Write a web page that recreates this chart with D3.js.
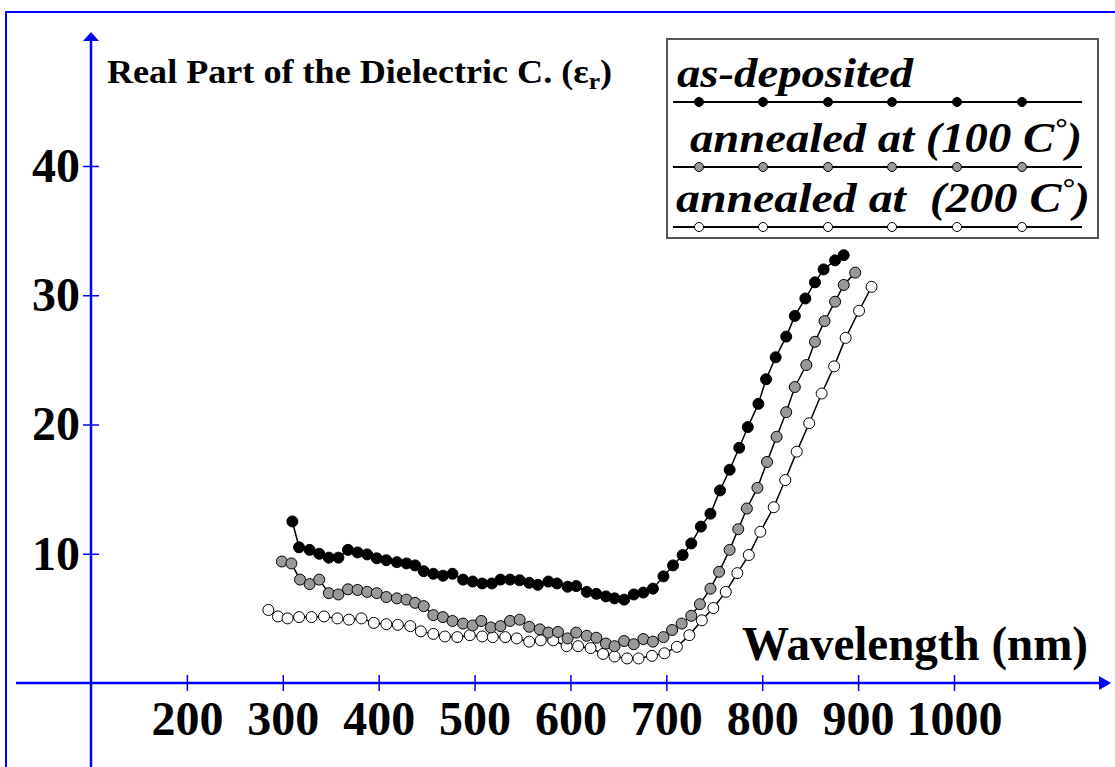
<!DOCTYPE html>
<html>
<head>
<meta charset="utf-8">
<script src="https://cdn.jsdelivr.net/npm/d3@7"></script>
<style>
    body { margin: 0; background: #fff; }
    text { font-family: "Liberation Serif", "Times New Roman", serif; font-weight: bold; }
</style>
</head>
<body>
<script>
// wavelength (nm) / real part of dielectric constant
const asDepWl = [310, 317, 328, 338, 348, 358, 368, 378, 388, 398, 408, 419, 429, 438, 447, 457, 467, 477, 488, 498,
    508, 518, 527, 537, 547, 557, 566, 577, 586, 597, 606, 617, 627, 637, 646, 656, 666, 676, 686, 697,
    707, 717, 726, 736, 746, 756, 766, 776, 785, 796, 804, 814, 825, 834, 845, 855, 864, 876, 885]
const asDepEr = [12.5, 10.5, 10.3, 10.0, 9.7, 9.7, 10.3, 10.1, 9.95, 9.65, 9.5, 9.35, 9.25, 9.1, 8.65, 8.45, 8.3, 8.45, 8.0, 7.85,
    7.7, 7.7, 8.0, 8.0, 7.95, 7.75, 7.6, 7.85, 7.7, 7.45, 7.5, 7.05, 6.9, 6.7, 6.55, 6.45, 6.85, 7.0, 7.3, 8.25,
    9.1, 9.9, 10.8, 12.1, 13.1, 14.9, 16.5, 18.2, 19.8, 21.6, 23.5, 25.2, 26.8, 28.4, 29.75, 31.0, 32.0, 32.7, 33.1]

const ann100Wl = [299, 309, 318, 328, 338, 348, 358, 368, 378, 388, 398, 408, 419, 429, 438, 447, 457, 467, 477, 488,
    498, 507, 517, 527, 537, 547, 557, 568, 577, 587, 597, 606, 617, 627, 637, 646, 656, 666, 676, 686,
    697, 706, 716, 726, 735, 746, 755, 766, 775, 784, 795, 805, 815, 825, 834, 846, 855, 865, 876, 885, 897]
const ann100Er = [9.4, 9.25, 8.0, 7.65, 8.0, 6.95, 6.85, 7.25, 7.2, 7.05, 6.95, 6.65, 6.55, 6.45, 6.2, 5.95, 5.25, 5.1, 4.8, 4.6,
    4.45, 4.8, 4.3, 4.4, 4.8, 4.9, 4.35, 4.15, 3.9, 3.95, 3.45, 3.9, 3.65, 3.5, 3.05, 2.85, 3.25, 3.0, 3.4, 3.2,
    3.55, 4.1, 4.6, 5.2, 6.1, 7.3, 8.6, 10.3, 11.9, 13.5, 15.1, 17.1, 19.05, 20.95, 22.9, 24.6, 26.4, 28.0, 29.5, 30.8, 31.75]

const ann200Wl = [285, 295, 305, 317, 330, 343, 357, 369, 382, 395, 408, 420, 433, 444, 457, 469, 482, 495, 508, 519,
    532, 544, 557, 569, 582, 596, 608, 621, 634, 646, 659, 671, 685, 698, 711, 724, 737, 749, 762, 774,
    786, 798, 812, 824, 836, 849, 862, 875, 887, 901, 914]
const ann200Er = [5.65, 5.15, 5.0, 5.1, 5.1, 5.15, 5.0, 4.9, 5.0, 4.65, 4.55, 4.5, 4.4, 4.0, 3.8, 3.6, 3.55, 3.7, 3.6, 3.55,
    3.55, 3.45, 3.2, 3.3, 3.3, 2.85, 2.85, 2.7, 2.25, 2.05, 1.9, 1.9, 2.1, 2.3, 2.8, 3.7, 4.85, 5.8, 7.05, 8.5,
    9.9, 11.7, 13.6, 15.7, 17.9, 20.1, 22.4, 24.5, 26.7, 28.8, 30.65]

const xTicks = [200, 300, 400, 500, 600, 700, 800, 900, 1000]
const yTicks = [10, 20, 30, 40]

const W = 1115, H = 767
const blue = "#0000ff"

const svg = d3.select("body").append("svg").attr("width", W).attr("height", H)

// khung xanh ngoai
svg.append("rect").attr("x", 6).attr("y", 12).attr("width", 1200).attr("height", 900)
    .attr("fill", "#fff").attr("stroke", blue).attr("stroke-width", 2)

const x = d3.scaleLinear().domain([100, 1000]).range([91, 954])
const y = d3.scaleLinear().domain([0, 40]).range([683, 166])

// truc x
svg.append("line").attr("x1", 16).attr("x2", 1100).attr("y1", y(0)).attr("y2", y(0))
    .attr("stroke", blue).attr("stroke-width", 2.5)
svg.append("path").attr("d", `M1111,${y(0)} L1099,${y(0) - 7} L1099,${y(0) + 7} Z`).attr("fill", blue)

// truc y
svg.append("line").attr("x1", x(100)).attr("x2", x(100)).attr("y1", 40).attr("y2", H)
    .attr("stroke", blue).attr("stroke-width", 2.5)
svg.append("path").attr("d", `M${x(100)},32 L${x(100) - 8},41 L${x(100) + 8},41 Z`).attr("fill", blue)

const gx = svg.append("g").attr("transform", `translate(0,${y(0) - 8})`)
    .call(d3.axisBottom(x).tickValues(xTicks).tickFormat(d3.format("d")).tickSize(16).tickPadding(10))
gx.select(".domain").remove()
gx.selectAll("line").attr("stroke", blue).attr("stroke-width", 1.5)
gx.selectAll("text").attr("fill", "#000").attr("font-size", 48)
    .style("font-family", '"Liberation Serif", serif').style("font-weight", "bold")

const gy = svg.append("g").attr("transform", `translate(${x(100) + 8},0)`)
    .call(d3.axisLeft(y).tickValues(yTicks).tickSize(16).tickPadding(3))
gy.select(".domain").remove()
gy.selectAll("line").attr("stroke", blue).attr("stroke-width", 1.5)
gy.selectAll("text").attr("fill", "#000").attr("font-size", 48)
    .style("font-family", '"Liberation Serif", serif').style("font-weight", "bold")

// ten truc
const yt = svg.append("text").attr("x", 107).attr("y", 83).attr("font-size", 34)
    .attr("textLength", 505).attr("lengthAdjust", "spacingAndGlyphs")
yt.append("tspan").text("Real Part of the Dielectric C. (ε")
yt.append("tspan").attr("font-size", 24).attr("dy", 6).text("r")
yt.append("tspan").attr("dy", -6).text(")")

svg.append("text").attr("x", 1088).attr("y", 660).attr("text-anchor", "end")
    .attr("font-size", 48).attr("textLength", 346).attr("lengthAdjust", "spacingAndGlyphs")
    .text("Wavelength (nm)")

// cac duong
const series = [
    {wl: ann200Wl, er: ann200Er, fill: "#ffffff"},
    {wl: ann100Wl, er: ann100Er, fill: "#999999"},
    {wl: asDepWl, er: asDepEr, fill: "#000000"}
]

const line = d3.line().x(d => x(d[0])).y(d => y(d[1]))

series.forEach(s => {
    let pts = s.wl.map((w, i) => [w, s.er[i]])
    svg.append("path").datum(pts).attr("d", line)
        .attr("fill", "none").attr("stroke", "#000").attr("stroke-width", 1.5)
    svg.append("g").selectAll("circle").data(pts).join("circle")
        .attr("cx", d => x(d[0])).attr("cy", d => y(d[1]))
        .attr("r", 5.5).attr("fill", s.fill).attr("stroke", "#000").attr("stroke-width", 1)
})

// chu thich
const legend = svg.append("g")
legend.append("rect").attr("x", 667).attr("y", 39).attr("width", 431).attr("height", 199)
    .attr("fill", "#fff").attr("stroke", "#555").attr("stroke-width", 2)

const legItems = [
    {fill: "#000000", ly: 102, tx: 677, ty: 87, len: 236, parts: [["as-deposited"]]},
    {fill: "#999999", ly: 167, tx: 690, ty: 152, len: 392, parts: [["annealed at (100 C"], ["°", true], [")"]]},
    {fill: "#ffffff", ly: 227, tx: 676, ty: 212, len: 414, parts: [["annealed at  (200 C"], ["°", true], [")"]]}
]
const legMarks = [699, 763, 828, 892, 957, 1022]

legItems.forEach(it => {
    let t = legend.append("text").attr("x", it.tx).attr("y", it.ty).attr("font-size", 42)
        .attr("font-style", "italic").attr("xml:space", "preserve")
        .attr("textLength", it.len).attr("lengthAdjust", "spacingAndGlyphs")
    it.parts.forEach(p => {
        let ts = t.append("tspan").text(p[0])
        if (p[1]) ts.attr("dy", -15).attr("font-size", 28)
        else if (p[0] === ")") ts.attr("dy", 15)
    })
    legend.append("line").attr("x1", 673).attr("x2", 1082).attr("y1", it.ly).attr("y2", it.ly)
        .attr("stroke", "#000").attr("stroke-width", 2)
    legend.selectAll(null).data(legMarks).join("circle")
        .attr("cx", d => d).attr("cy", it.ly).attr("r", 4.5)
        .attr("fill", it.fill).attr("stroke", "#000").attr("stroke-width", 1)
})
</script>
</body>
</html>
